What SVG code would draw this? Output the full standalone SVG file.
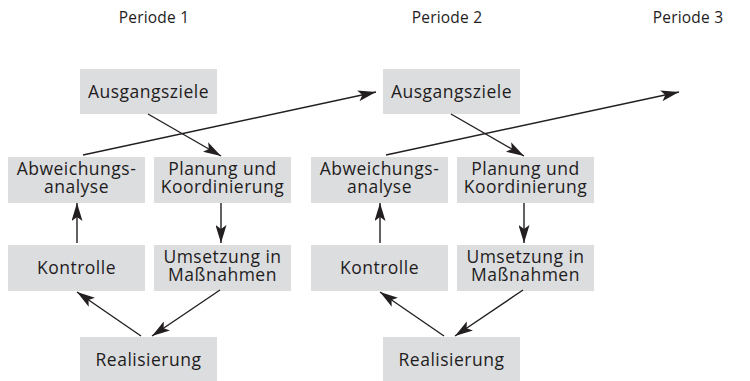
<svg xmlns="http://www.w3.org/2000/svg" width="750" height="381" viewBox="0 0 750 381">
<style>
.box{fill:#dcdddf}
.t{font-family:"Open Sans","Liberation Sans",sans-serif;font-size:17.5px;fill:#1f1c1d;text-anchor:middle;letter-spacing:0.5px}
.p{font-family:"Open Sans","Liberation Sans",sans-serif;font-size:15.5px;fill:#1f1c1d;text-anchor:middle;letter-spacing:0.2px}
.c{stroke:#231f20;stroke-width:1.4;fill:none;marker-end:url(#ah)}
</style>
<defs>
<marker id="ah" markerUnits="userSpaceOnUse" viewBox="0 0 18 11" refX="18" refY="5.5" markerWidth="18" markerHeight="11" orient="auto">
<path d="M0,0 L18,5.5 L0,11 L4,5.5 z" fill="#231f20"/>
</marker>
</defs>
<g id="labels">
<text class="p" x="154" y="23">Periode 1</text>
<text class="p" x="447" y="23">Periode 2</text>
<text class="p" x="688" y="23">Periode 3</text>
</g>
<g id="p1-ausgangsziele"><rect class="box" x="80" y="69" width="137" height="45"/><text class="t" x="148.5" y="97.5">Ausgangsziele</text></g>
<g id="p1-abweichung"><rect class="box" x="8" y="157" width="137" height="46"/><text class="t" x="76.5" y="175">Abweichungs-</text><text class="t" x="76.5" y="193">analyse</text></g>
<g id="p1-planung"><rect class="box" x="154" y="157" width="137" height="46"/><text class="t" x="222.5" y="175">Planung und</text><text class="t" x="222.5" y="193">Koordinierung</text></g>
<g id="p1-kontrolle"><rect class="box" x="8" y="245" width="137" height="46"/><text class="t" x="76.5" y="273.5">Kontrolle</text></g>
<g id="p1-umsetzung"><rect class="box" x="154" y="245" width="137" height="46"/><text class="t" x="222.5" y="263">Umsetzung in</text><text class="t" x="222.5" y="281">Maßnahmen</text></g>
<g id="p1-realisierung"><rect class="box" x="80" y="337" width="137" height="44"/><text class="t" x="148.5" y="365.5">Realisierung</text></g>
<g id="p2-ausgangsziele"><rect class="box" x="383" y="69" width="137" height="45"/><text class="t" x="451.5" y="97.5">Ausgangsziele</text></g>
<g id="p2-abweichung"><rect class="box" x="311" y="157" width="137" height="46"/><text class="t" x="379.5" y="175">Abweichungs-</text><text class="t" x="379.5" y="193">analyse</text></g>
<g id="p2-planung"><rect class="box" x="457" y="157" width="137" height="46"/><text class="t" x="525.5" y="175">Planung und</text><text class="t" x="525.5" y="193">Koordinierung</text></g>
<g id="p2-kontrolle"><rect class="box" x="311" y="245" width="137" height="46"/><text class="t" x="379.5" y="273.5">Kontrolle</text></g>
<g id="p2-umsetzung"><rect class="box" x="457" y="245" width="137" height="46"/><text class="t" x="525.5" y="263">Umsetzung in</text><text class="t" x="525.5" y="281">Maßnahmen</text></g>
<g id="p2-realisierung"><rect class="box" x="383" y="337" width="137" height="44"/><text class="t" x="451.5" y="365.5">Realisierung</text></g>
<g id="connectors">
<line class="c" x1="148" y1="114" x2="221" y2="156"/>
<line class="c" x1="83" y1="155" x2="376" y2="92"/>
<line class="c" x1="221" y1="203" x2="221" y2="243"/>
<line class="c" x1="77" y1="243" x2="77" y2="203"/>
<line class="c" x1="141" y1="336" x2="77" y2="292"/>
<line class="c" x1="220" y1="290" x2="152" y2="336"/>
<line class="c" x1="451" y1="114" x2="524" y2="156"/>
<line class="c" x1="386" y1="155" x2="679" y2="92"/>
<line class="c" x1="524" y1="203" x2="524" y2="243"/>
<line class="c" x1="380" y1="243" x2="380" y2="203"/>
<line class="c" x1="444" y1="336" x2="380" y2="292"/>
<line class="c" x1="523" y1="290" x2="455" y2="336"/>
</g>
</svg>
